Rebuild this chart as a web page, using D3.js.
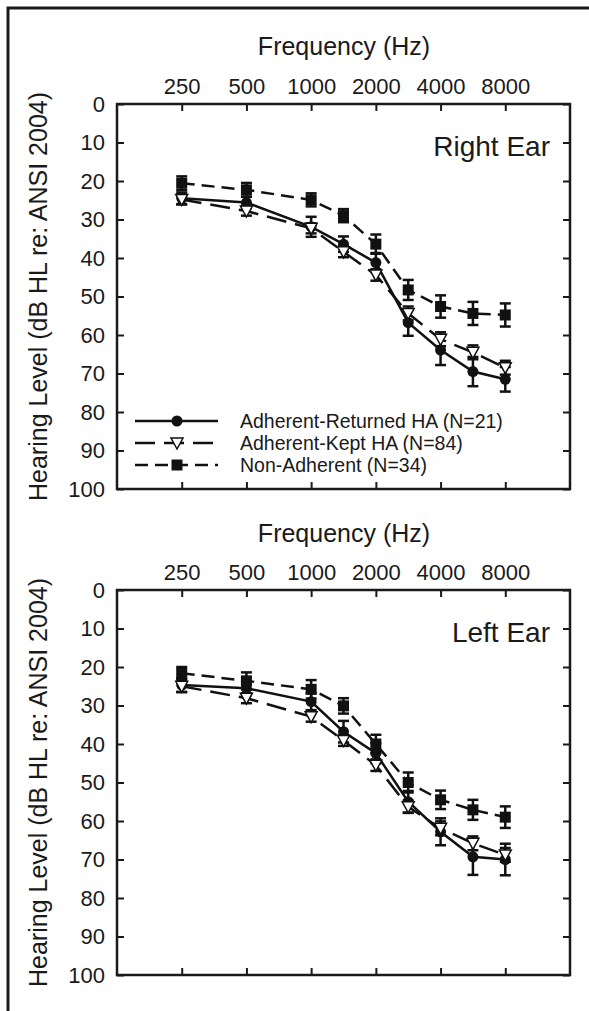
<!DOCTYPE html>
<html><head><meta charset="utf-8">
<script src="https://cdn.jsdelivr.net/npm/d3@7"></script>
<style>
html,body{margin:0;padding:0;background:#fff;}
text{font-family:"Liberation Sans",Arial,sans-serif;fill:#1a1a1a;}
</style></head>
<body>
<svg id="chart" width="589" height="1011"></svg>
<script>
// ---- data ----
const freqs = [250, 500, 1000, 1500, 2000, 3000, 4000, 6000, 8000];
const tickFreqs = [250, 500, 1000, 2000, 4000, 8000];
const dbTicks = [0, 10, 20, 30, 40, 50, 60, 70, 80, 90, 100];
const seriesNames = ["Adherent-Returned HA (N=21)", "Adherent-Kept HA (N=84)", "Non-Adherent (N=34)"];

const rightReturned    = [24.5, 25.6, 31.9, 36.4, 41.2, 56.8, 63.9, 69.5, 71.5];
const rightReturnedErr = [1.5, 1.5, 2.6, 2.0, 2.5, 3.4, 3.9, 3.8, 3.2];
const rightKept        = [24.8, 27.8, 32.3, 38.4, 44.4, 54.4, 61.1, 64.5, 68.5];
const rightKeptErr     = [1.3, 1.2, 1.3, 1.4, 1.5, 1.8, 1.8, 1.8, 1.8];
const rightNon         = [20.6, 22.3, 24.9, 29.0, 36.4, 48.3, 52.6, 54.4, 54.8];
const rightNonErr      = [1.8, 1.8, 1.7, 1.7, 2.5, 2.6, 2.9, 3.0, 3.0];

const leftReturned     = [24.7, 25.5, 29.0, 36.8, 42.4, 55.0, 62.8, 69.3, 70.0];
const leftReturnedErr  = [1.8, 1.8, 2.2, 2.8, 2.6, 2.8, 3.5, 4.7, 4.1];
const leftKept         = [25.0, 28.1, 32.9, 39.1, 45.5, 56.3, 61.9, 65.8, 68.8];
const leftKeptErr      = [1.5, 1.3, 1.3, 1.4, 1.5, 1.6, 1.8, 1.8, 1.8];
const leftNon          = [21.6, 23.6, 25.8, 30.1, 40.0, 50.0, 54.5, 57.1, 59.0];
const leftNonErr       = [1.6, 2.2, 2.4, 2.0, 2.4, 2.6, 2.4, 2.6, 2.8];

// ---- layout ----
const svg = d3.select("#chart");
const L = 117, R = 570, PH = 385;
const panels = [
  {top: 104, label: "Right Ear", titleY: 46, legend: true,
   data: [[rightReturned, rightReturnedErr], [rightKept, rightKeptErr], [rightNon, rightNonErr]]},
  {top: 590, label: "Left Ear", titleY: 533, legend: false,
   data: [[leftReturned, leftReturnedErr], [leftKept, leftKeptErr], [leftNon, leftNonErr]]}
];
const styles = [
  {dash: null, marker: "circle"},
  {dash: "20,9", marker: "tri"},
  {dash: "13,7", marker: "square"}
];

// audiogram octave position (half-octaves placed midway)
const oct = f => Math.round(Math.log2(f / 250) * 2) / 2;
const x = d3.scaleLinear().domain([-1, 6]).range([L, R]);

// outer frame
svg.append("path").attr("d", "M8,1011V8H589").attr("fill", "none").attr("stroke", "#1a1a1a").attr("stroke-width", 3);

function drawMarker(g, type, cx, cy) {
  if (type === "circle") {
    g.append("circle").attr("cx", cx).attr("cy", cy).attr("r", 5.5).attr("fill", "#111");
  } else if (type === "square") {
    g.append("rect").attr("x", cx - 5.5).attr("y", cy - 5.5).attr("width", 11).attr("height", 11).attr("fill", "#111");
  } else {
    g.append("path").attr("d", `M${cx-6},${cy-5}L${cx+6},${cy-5}L${cx},${cy+6}Z`)
      .attr("fill", "#fff").attr("stroke", "#111").attr("stroke-width", 1.5);
  }
}

panels.forEach(p => {
  const y = d3.scaleLinear().domain([0, 100]).range([p.top, p.top + PH]);
  const g = svg.append("g");
  const fmt = v => String(tickFreqs.find(f => oct(f) === v));
  const tickPos = tickFreqs.map(oct);

  const axT = g.append("g").attr("transform", `translate(0,${p.top})`)
    .call(d3.axisTop(x).tickValues(tickPos).tickFormat(fmt).tickSize(-7).tickPadding(10));
  const axB = g.append("g").attr("transform", `translate(0,${p.top + PH})`)
    .call(d3.axisBottom(x).tickValues(tickPos).tickFormat("").tickSize(-7));
  const axL = g.append("g").attr("transform", `translate(${L},0)`)
    .call(d3.axisLeft(y).tickValues(dbTicks).tickSize(-7).tickPadding(12));
  const axR = g.append("g").attr("transform", `translate(${R},0)`)
    .call(d3.axisRight(y).tickValues(dbTicks).tickFormat("").tickSize(-7));
  [axT, axB, axL, axR].forEach(a => {
    a.select(".domain").remove();
    a.selectAll(".tick line").attr("stroke", "#1a1a1a").attr("stroke-width", 2);
    a.selectAll("text").attr("font-size", 22).attr("fill", "#1a1a1a").attr("font-family", "Liberation Sans, Arial, sans-serif");
  });
  g.append("rect").attr("x", L).attr("y", p.top).attr("width", R - L).attr("height", PH)
    .attr("fill", "none").attr("stroke", "#1a1a1a").attr("stroke-width", 2.5);

  g.append("text").attr("x", 344).attr("y", p.titleY).attr("dy", "0.35em")
    .attr("text-anchor", "middle").attr("font-size", 25).text("Frequency (Hz)");
  g.append("text").attr("transform", `translate(47,${p.top + PH / 2}) rotate(-90)`)
    .attr("text-anchor", "middle").attr("font-size", 25).text("Hearing Level (dB HL re: ANSI 2004)");
  g.append("text").attr("x", 550).attr("y", p.top + 52).attr("text-anchor", "end")
    .attr("font-size", 28).text(p.label);

  const line = d3.line().x(d => x(oct(d.f))).y(d => y(d.v));
  p.data.forEach((sd, si) => {
    const pts = freqs.map((f, i) => ({f, v: sd[0][i], e: sd[1][i]}));
    const sg = g.append("g");
    sg.append("path").datum(pts).attr("d", line).attr("fill", "none").attr("stroke", "#111")
      .attr("stroke-width", 2.5).attr("stroke-dasharray", styles[si].dash);
    pts.forEach(d => {
      const cx = x(oct(d.f));
      sg.append("line").attr("x1", cx).attr("x2", cx).attr("y1", y(d.v - d.e)).attr("y2", y(d.v + d.e))
        .attr("stroke", "#111").attr("stroke-width", 2.5);
      [d.v - d.e, d.v + d.e].forEach(v => sg.append("line").attr("x1", cx - 5.5).attr("x2", cx + 5.5)
        .attr("y1", y(v)).attr("y2", y(v)).attr("stroke", "#111").attr("stroke-width", 2.5));
    });
    pts.forEach(d => drawMarker(sg, styles[si].marker, x(oct(d.f)), y(d.v)));
  });

  if (p.legend) {
    const rows = [421, 443, 465];
    seriesNames.forEach((name, i) => {
      const lg = g.append("g");
      lg.append("line").attr("x1", 135).attr("x2", 218).attr("y1", rows[i]).attr("y2", rows[i])
        .attr("stroke", "#111").attr("stroke-width", 2.5).attr("stroke-dasharray", styles[i].dash);
      drawMarker(lg, styles[i].marker, 177, rows[i]);
      lg.append("text").attr("x", 240).attr("y", rows[i]).attr("dy", "0.35em")
        .attr("font-size", 19.5).text(name);
    });
  }
});
</script>
</body></html>
